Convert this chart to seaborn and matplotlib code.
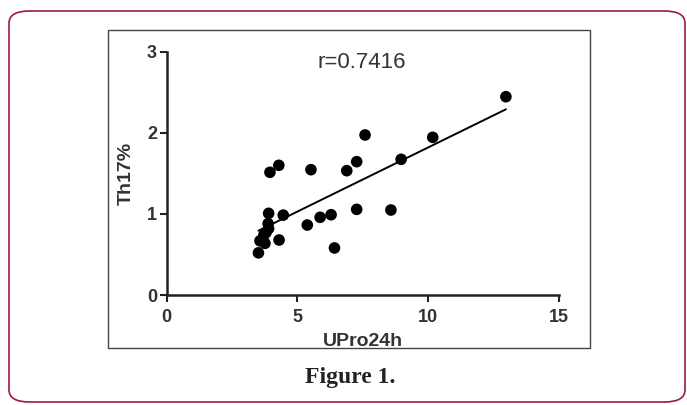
import seaborn as sns
import matplotlib.pyplot as plt
from matplotlib.patches import FancyBboxPatch, Rectangle
import pandas as pd

# values
upro24h = [12.98, 7.59, 10.18, 8.97, 7.27, 6.89, 5.52, 4.29, 3.95,
           3.90, 4.46, 7.27, 8.58, 6.29, 5.87, 5.38, 4.30, 6.42,
           3.51, 3.57, 3.76, 3.88, 3.90, 3.80, 3.72]
th17 = [2.445, 1.973, 1.944, 1.673, 1.644, 1.533, 1.545, 1.599, 1.513,
        1.007, 0.985, 1.056, 1.048, 0.990, 0.958, 0.863, 0.678, 0.580,
        0.520, 0.668, 0.637, 0.880, 0.820, 0.770, 0.740]
r_text = "r=0.7416"
x_ticks = [0, 5, 10, 15]
y_ticks = [0, 1, 2, 3]

df = pd.DataFrame({"UPro24h": upro24h, "Th17%": th17})

sns.set_style("ticks")
plt.rcParams['font.family'] = ['Liberation Sans', 'DejaVu Sans']

fig = plt.figure(figsize=(6.87, 4.05), dpi=100)

# outer rounded frame and inner chart box
fig.patches.append(FancyBboxPatch((9 / 687, 3 / 405), 676 / 687, 391 / 405,
                                  boxstyle="round,pad=0,rounding_size=0.03",
                                  transform=fig.transFigure, fill=False,
                                  edgecolor="#a0174b", lw=1.2))
fig.patches.append(Rectangle((108 / 687, 1 - 348 / 405), 482 / 687, 318 / 405,
                             transform=fig.transFigure, fill=False,
                             edgecolor="#444444", lw=1.0))

ax = fig.add_axes([166.7 / 687, 1 - 295 / 405, 392 / 687, 243.3 / 405])
sns.regplot(data=df, x="UPro24h", y="Th17%", ax=ax, ci=None, truncate=True,
            scatter_kws=dict(s=70, color="black", alpha=1, edgecolors="none",
                             zorder=3, clip_on=False),
            line_kws=dict(color="black", lw=1.4))

ax.set_xlim(0, 15)
ax.set_ylim(0, 3)
ax.set_xticks(x_ticks)
ax.set_yticks(y_ticks)
sns.despine(ax=ax)
for s in ["left", "bottom"]:
    ax.spines[s].set_linewidth(1.8)
    ax.spines[s].set_color("#222222")
ax.tick_params(width=1.5, length=5, color="#222222", labelsize=13)
ax.tick_params(axis="x", pad=5)
ax.tick_params(axis="y", pad=2)
for lab in ax.get_xticklabels() + ax.get_yticklabels():
    lab.set_fontweight("bold")
    lab.set_color("#333333")

ax.set_xlabel("UPro24h", fontsize=14, fontweight="bold", color="#333333", labelpad=5)
ax.set_ylabel("Th17%", fontsize=14, fontweight="bold", color="#333333", labelpad=9)
ax.text(7.47, 2.87, r_text, ha="center", va="center", fontsize=16, color="#333333")

fig.text(350 / 687, 1 - 377 / 405, "Figure 1.", ha="center", va="center",
         fontsize=17, fontweight="bold", family=["Liberation Serif", "DejaVu Serif"],
         color="#222222")

fig.savefig("out.png", dpi=100)
